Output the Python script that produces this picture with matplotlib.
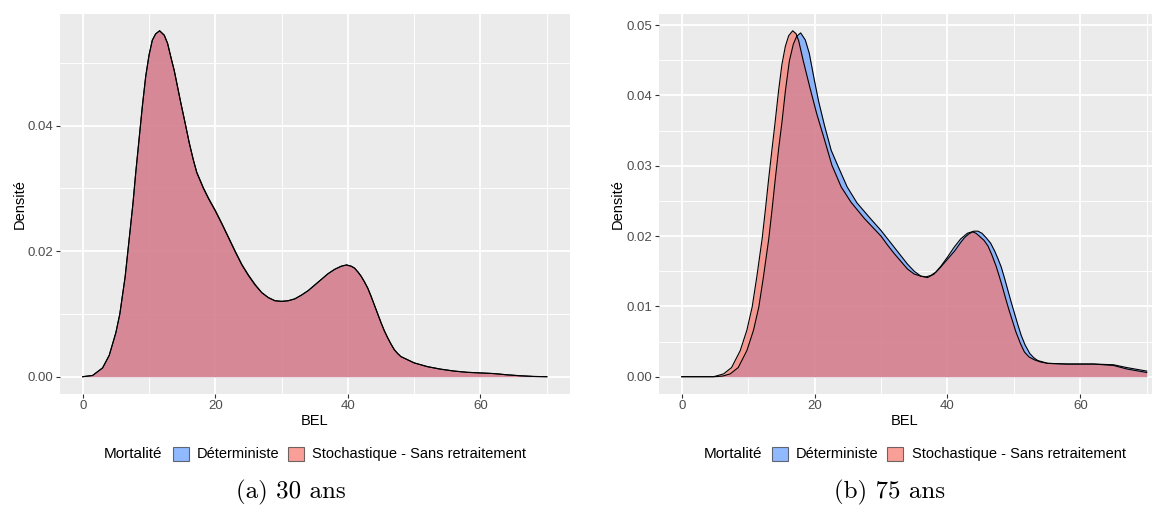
import matplotlib
matplotlib.use("Agg")
import matplotlib.pyplot as plt
from matplotlib.patches import Patch
from matplotlib.ticker import MultipleLocator

# ---- data: kernel density of the BEL, by mortality model ----
series_names = ["Déterministe", "Stochastique - Sans retraitement"]
legend_title = "Mortalité"
x_label = "BEL"
y_label = "Densité"
captions = ["(a) 30 ans", "(b) 75 ans"]

# 30 ans (both models give practically the same density)
bel_30 = [0, 1.5, 3.0, 4.0, 5.0, 5.6, 6.4, 7.1, 7.6, 8.0, 8.5, 9.0, 9.5, 10.0,
          10.5, 11.0, 11.6, 12.3, 12.8, 13.3, 13.8, 14.3, 14.8, 15.45, 16.06,
          16.67, 17.2, 18.2, 19.0, 20.0, 21.0, 22.0, 23.0, 24.0, 25.0, 26.0,
          27.0, 28.0, 29.0, 30.0, 31.0, 32.0, 33.0, 34.0, 35.0, 36.0, 37.0,
          38.0, 39.0, 39.8, 40.5, 41.0, 41.5, 42.0, 42.5, 43.0, 43.5, 44.0,
          44.5, 45.0, 45.5, 46.0, 46.5, 47.0, 47.5, 48.0, 49.0, 50.0, 52.0,
          54.0, 56.0, 58.0, 60.0, 62.0, 64.0, 66.0, 68.0, 70.0]
dens_30_sto = [0, 0.0002, 0.0014, 0.0034, 0.0070, 0.0100, 0.0159, 0.0228, 0.0278,
               0.0325, 0.0378, 0.0431, 0.0478, 0.0512, 0.0536, 0.0546, 0.0551,
               0.0544, 0.0531, 0.0509, 0.0488, 0.0462, 0.0436, 0.0404, 0.0373,
               0.0346, 0.0325, 0.0300, 0.0283, 0.0264, 0.0243, 0.0221, 0.0199,
               0.0178, 0.0161, 0.0146, 0.0134, 0.0126, 0.0121, 0.0120, 0.0121,
               0.0124, 0.0130, 0.0137, 0.0146, 0.0155, 0.0164, 0.0171, 0.0176,
               0.0178, 0.0176, 0.0173, 0.0167, 0.0160, 0.0151, 0.0141, 0.0128,
               0.0114, 0.0100, 0.0086, 0.0073, 0.0062, 0.0052, 0.0043, 0.0037,
               0.0032, 0.0027, 0.0022, 0.0016, 0.0012, 0.0009, 0.0007, 0.0006,
               0.0005, 0.0003, 0.00015, 0.00004, 0.0]
dens_30_det = [0, 0.0002, 0.0014, 0.0034, 0.0070, 0.0100, 0.0159, 0.0228, 0.0278,
               0.0325, 0.0378, 0.0431, 0.0478, 0.0512, 0.0536, 0.0546, 0.0551,
               0.0544, 0.0531, 0.0509, 0.0488, 0.0462, 0.0436, 0.0404, 0.0373,
               0.0346, 0.0326, 0.0301, 0.0284, 0.0265, 0.0244, 0.0222, 0.0200,
               0.0179, 0.0162, 0.0147, 0.0134, 0.0126, 0.0121, 0.0120, 0.0121,
               0.0124, 0.0130, 0.0137, 0.0146, 0.0155, 0.0164, 0.0171, 0.0176,
               0.0178, 0.0176, 0.0173, 0.0167, 0.0160, 0.0151, 0.0141, 0.0128,
               0.0114, 0.0100, 0.0086, 0.0073, 0.0062, 0.0052, 0.0043, 0.0037,
               0.0032, 0.0027, 0.0022, 0.0016, 0.0012, 0.0009, 0.0007, 0.0006,
               0.0005, 0.0003, 0.00015, 0.00004, 0.0]

# 75 ans
bel_75_det = [0, 5.0, 6.2, 7.3, 8.5, 9.8, 10.8, 11.6, 12.3, 13.1, 13.6, 14.07,
              14.6, 15.1, 15.6, 16.2, 16.8, 17.3, 17.9, 18.6, 19.2, 19.9, 20.6,
              21.5, 22.5, 23.5, 24.9, 26.4, 28.4, 30.0, 31.0, 32.0, 33.0, 34.0,
              35.0, 36.0, 37.0, 38.0, 39.0, 40.0, 41.0, 42.0, 43.0, 44.0, 44.6,
              45.2, 45.8, 46.5, 47.1, 47.6, 48.1, 48.6, 49.1, 49.6, 50.1, 50.6,
              51.1, 51.7, 52.4, 53.0, 53.6, 55.1, 58.0, 62.0, 65.0, 67.0, 70.0]
dens_75_det = [0, 0.0, 0.0001, 0.0004, 0.0013, 0.0037, 0.0066, 0.0099, 0.0142,
               0.0196, 0.0238, 0.0280, 0.0325, 0.0363, 0.0406, 0.0449, 0.0473,
               0.0484, 0.0489, 0.0479, 0.0460, 0.0425, 0.0392, 0.0357, 0.0322,
               0.0300, 0.0270, 0.0247, 0.0225, 0.0208, 0.0196, 0.0184, 0.0172,
               0.0160, 0.0150, 0.0143, 0.0141, 0.0146, 0.0157, 0.0170, 0.0184,
               0.0196, 0.0204, 0.0207, 0.0207, 0.0204, 0.0198, 0.0190, 0.0179,
               0.0168, 0.0156, 0.0140, 0.0123, 0.0106, 0.0090, 0.0074, 0.0059,
               0.0045, 0.0033, 0.0027, 0.0023, 0.0019, 0.0018, 0.0018, 0.0017,
               0.0013, 0.0008]
bel_75_sto = [0, 4.8, 6.3, 7.5, 8.8, 9.8, 10.6, 11.3, 12.1, 12.6, 13.07, 13.57,
              14.07, 14.57, 15.08, 15.6, 16.1, 16.7, 17.2, 17.6, 18.3, 19.3,
              20.35, 21.4, 22.6, 24.0, 25.5, 27.5, 29.0, 30.0, 31.0, 32.0, 33.0,
              34.0, 35.0, 36.0, 36.8, 37.5, 38.3, 39.0, 40.0, 41.1, 42.0, 42.6,
              43.2, 43.8, 44.3, 44.8, 45.5, 46.1, 46.7, 47.3, 47.8, 48.3, 48.8,
              49.3, 49.8, 50.3, 51.0, 51.6, 52.3, 53.1, 54.0, 55.1, 58.0, 62.0,
              65.0, 67.0, 70.0]
dens_75_sto = [0, 0.0, 0.0004, 0.0013, 0.0037, 0.0066, 0.0099, 0.0142, 0.0196,
               0.0238, 0.0280, 0.0322, 0.0363, 0.0406, 0.0444, 0.0470, 0.0485,
               0.0492, 0.0488, 0.0478, 0.0449, 0.0411, 0.0373, 0.0340, 0.0301,
               0.0270, 0.0248, 0.0225, 0.0210, 0.0200, 0.0187, 0.0175, 0.0164,
               0.0153, 0.0146, 0.0143, 0.0142, 0.0144, 0.0149, 0.0156, 0.0167,
               0.0179, 0.0191, 0.0198, 0.0203, 0.0206, 0.0204, 0.0200, 0.0194,
               0.0186, 0.0173, 0.0158, 0.0143, 0.0127, 0.0110, 0.0094, 0.0079,
               0.0064, 0.0047, 0.0035, 0.0028, 0.0024, 0.0021, 0.0019, 0.0018,
               0.0018, 0.0016, 0.0011, 0.0006]

x_ticks = [0, 20, 40, 60]
y_ticks_30 = [0.00, 0.02, 0.04]
y_ticks_75 = [0.00, 0.01, 0.02, 0.03, 0.04, 0.05]

# ---- style ----
FILLS = ["#619CFF", "#F8766D"]
ALPHA = 0.7
PANEL_BG = "#EBEBEB"
SANS = ["Liberation Sans", "DejaVu Sans"]
plt.rcParams["font.family"] = SANS

W, H = 1155, 507
fig = plt.figure(figsize=(W / 100, H / 100), dpi=100)


def px_axes(left, right, top, bottom):
    return fig.add_axes([left / W, 1 - bottom / H, (right - left) / W, (bottom - top) / H])


def style_axes(ax, yticks, xlim, ymax):
    ax.set_facecolor(PANEL_BG)
    for s in ax.spines.values():
        s.set_visible(False)
    ax.set_xlim(*xlim)
    ax.set_ylim(-ymax * 0.05, ymax * 1.05)
    ax.set_xticks(x_ticks)
    ax.set_yticks(yticks)
    step = yticks[1] - yticks[0]
    ax.xaxis.set_minor_locator(MultipleLocator(10))
    ax.yaxis.set_minor_locator(MultipleLocator(step / 2))
    ax.tick_params(which="minor", length=0)
    ax.tick_params(which="major", length=2.6, width=0.8, color="#333333",
                   labelcolor="#4D4D4D", labelsize=9.5, pad=2)
    ax.yaxis.set_major_formatter(plt.FuncFormatter(lambda v, p: f"{v:.2f}"))
    ax.grid(which="major", color="white", lw=1.3)
    ax.grid(which="minor", color="white", lw=0.65)
    ax.set_axisbelow(True)


def draw_density(ax, x, y, color):
    ax.fill_between(x, y, 0, color=color, alpha=ALPHA, lw=0, zorder=2)
    ax.plot(x, y, color="black", lw=0.8, zorder=3, solid_joinstyle="round")


ax1 = px_axes(59.5, 570, 13.5, 394)
style_axes(ax1, y_ticks_30, (-3.5, 73.5), max(dens_30_sto))
draw_density(ax1, bel_30, dens_30_det, FILLS[0])
draw_density(ax1, bel_30, dens_30_sto, FILLS[1])

ax2 = px_axes(658.5, 1152, 13.5, 394)
style_axes(ax2, y_ticks_75, (-3.5, 70.8), max(dens_75_sto))
draw_density(ax2, bel_75_det, dens_75_det, FILLS[0])
draw_density(ax2, bel_75_sto, dens_75_sto, FILLS[1])

# axis titles
for cx in [19.5, 618]:
    fig.text(cx / W, 1 - 204 / H, y_label, rotation=90, ha="center", va="center",
             fontsize=10.5, color="black")
for panel_mid in [314.75, 905]:
    fig.text(panel_mid / W, 1 - 421 / H, x_label, ha="center", va="center",
             fontsize=10.5, color="black")

# legends
handles = [Patch(facecolor=c, alpha=ALPHA, edgecolor="#333333", lw=0.8) for c in FILLS]
for title_x, key_x in [(104, 173), (704, 772)]:
    fig.text(title_x / W, 1 - 454 / H, legend_title, ha="left", va="center",
             fontsize=11, color="black")
    fig.legend(handles, series_names, loc="center left",
               bbox_to_anchor=(key_x / W, 1 - 454 / H), ncol=2, frameon=False,
               fontsize=10.5, handlelength=1.1, handleheight=1.1,
               handletextpad=0.55, columnspacing=0.6, borderpad=0,
               borderaxespad=0)

# sub-captions
for cx, text in zip([290.5, 890], captions):
    fig.text(cx / W, 1 - 492 / H, text, ha="center", va="center",
             fontsize=18, family="cmr10", color="black")

fig.savefig("out.png", dpi=100)
